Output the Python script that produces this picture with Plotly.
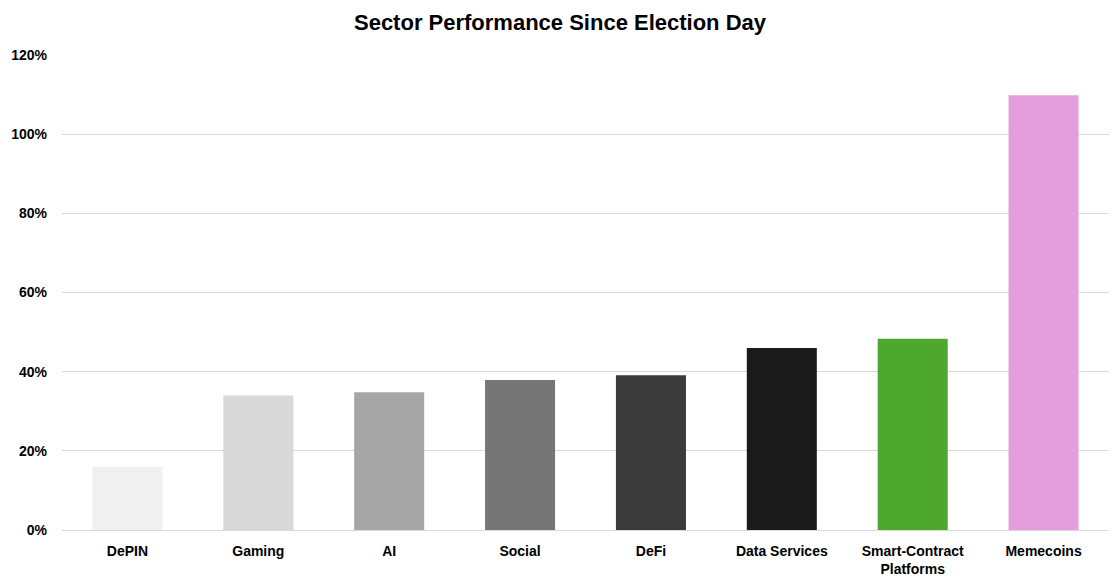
import plotly.graph_objects as go

categories = ["DePIN", "Gaming", "AI", "Social", "DeFi", "Data Services", "Smart-Contract Platforms", "Memecoins"]
tick_labels = ["DePIN", "Gaming", "AI", "Social", "DeFi", "Data Services", "Smart-Contract<br>Platforms", "Memecoins"]
values = [0.16, 0.34, 0.348, 0.379, 0.391, 0.46, 0.483, 1.098]
colors = ["#f0f0f0", "#d9d9d9", "#a6a6a6", "#757575", "#3a3a3a", "#1a1a1a", "#4ea72e", "#e49edd"]
y_ticks = [0, 0.2, 0.4, 0.6, 0.8, 1.0, 1.2]

fig = go.Figure(go.Bar(x=categories, y=values, marker=dict(color=colors, line=dict(width=0)),
                       hoverinfo="x+y"))

fig.update_layout(
    width=1104, height=572,
    margin=dict(l=52, r=3, t=47, b=49),
    paper_bgcolor="white", plot_bgcolor="white",
    bargap=0.465,
    showlegend=False,
    title=dict(text="Sector Performance Since Election Day", x=0.5, xanchor="center", y=0.975, yanchor="middle",
               font=dict(family="Liberation Sans, Arial, sans-serif", size=22, color="black", weight="bold")),
)
fig.update_xaxes(tickmode="array", tickvals=categories, ticktext=tick_labels,
                 tickfont=dict(family="Liberation Sans, Arial, sans-serif", size=14, color="black", weight="bold"),
                 showline=True, linecolor="#d9d9d9", linewidth=1, ticks="", showgrid=False,
                 ticklabelstandoff=8)
fig.update_yaxes(range=[0, 1.2], tickvals=y_ticks, tickformat=".0%",
                 tickfont=dict(family="Liberation Sans, Arial, sans-serif", size=14, color="black", weight="bold"),
                 showgrid=True, gridcolor="#d9d9d9", gridwidth=1, zeroline=True, zerolinecolor="#d9d9d9",
                 zerolinewidth=1, ticks="", ticklen=0, showline=False, ticklabelstandoff=14)

fig.write_html("out.html")
